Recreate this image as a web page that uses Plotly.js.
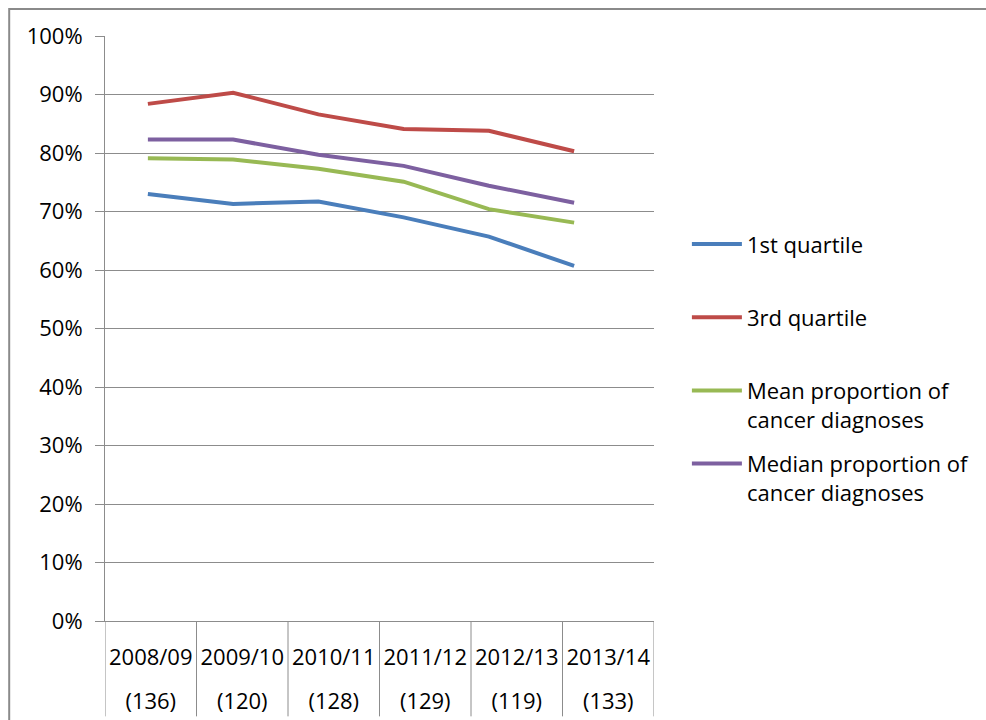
<!DOCTYPE html>
<html>
<head>
<meta charset="utf-8">
<script src="https://cdn.plot.ly/plotly-3.0.1.min.js"></script>
<style>html,body{margin:0;padding:0;background:#fff;}</style>
</head>
<body>
<div id="chart" style="width:986px;height:720px;"></div>
<script>
// ---- data ----
var years = ["2008/09", "2009/10", "2010/11", "2011/12", "2012/13", "2013/14"];
var counts = ["(136)", "(120)", "(128)", "(129)", "(119)", "(133)"];
var q1 = [0.730, 0.713, 0.717, 0.690, 0.657, 0.607];
var q3 = [0.884, 0.903, 0.866, 0.841, 0.838, 0.803];
var meanProp = [0.791, 0.789, 0.773, 0.751, 0.704, 0.681];
var medianProp = [0.823, 0.823, 0.797, 0.778, 0.744, 0.715];
var seriesNames = ["1st quartile", "3rd quartile", "Mean proportion of<br>cancer diagnoses", "Median proportion of<br>cancer diagnoses"];
var seriesColors = ["#4A7EBB", "#BE4B48", "#98B954", "#7D60A0"];

var idx = years.map(function (_, i) { return i; });
var FONT = "Open Sans, Lato, sans-serif";
var GRID = "#8c8c8c";

var allVals = [q1, q3, meanProp, medianProp];
var traces = allVals.map(function (vals, k) {
  var nm = seriesNames[k];
  if (nm.indexOf("<br>") < 0) nm = nm + "<br> ";
  return {
    type: "scatter", mode: "lines", x: idx, y: vals, xaxis: "x", yaxis: "y",
    name: nm, legendgroup: "g" + k,
    line: {color: seriesColors[k], width: 4}, hoverinfo: "skip"
  };
});
// invisible traces to anchor the category axes
traces.push({type: "scatter", mode: "markers", x: years, y: years.map(function(){return null;}), xaxis: "x2", yaxis: "y", showlegend: false, hoverinfo: "skip"});
traces.push({type: "scatter", mode: "markers", x: years, y: years.map(function(){return null;}), xaxis: "x3", yaxis: "y", showlegend: false, hoverinfo: "skip"});

// separators at category boundaries below the plot
var shapes = [];
for (var b = 0; b <= years.length; b++) {
  shapes.push({type: "line", xref: "x2", yref: "paper", x0: b - 0.5, x1: b - 0.5, y0: 0, y1: -0.163,
    line: {color: GRID, width: 1}, layer: "below"});
}
// outer chart border
shapes.push({type: "rect", xref: "paper", yref: "paper", x0: -0.1745, x1: 2, y0: -0.5, y1: 1.046,
  line: {color: "#8a8a8a", width: 2}, fillcolor: "rgba(0,0,0,0)"});

var layout = {
  width: 986, height: 720,
  margin: {l: 105, r: 331, t: 36, b: 99},
  paper_bgcolor: "#fff", plot_bgcolor: "#fff",
  font: {family: FONT, color: "#000", size: 20},
  showlegend: true,
  legend: {
    x: 1.058, xanchor: "left", y: 0.68, yanchor: "top",
    font: {family: FONT, size: 22, color: "#000"},
    valign: "top", traceorder: "grouped", tracegroupgap: 13,
    itemwidth: 50, borderwidth: 0, bgcolor: "rgba(0,0,0,0)"
  },
  xaxis: {
    type: "linear", range: [-0.503, 5.937], showgrid: false, zeroline: false,
    showticklabels: false, ticks: "", showline: false, fixedrange: true
  },
  xaxis2: {
    type: "category", overlaying: "x", side: "bottom", range: [-0.5, 5.5],
    tickvals: years, ticktext: years, showgrid: false, zeroline: false,
    ticks: "", showline: true, linecolor: GRID, linewidth: 1,
    tickfont: {family: FONT, size: 22, color: "#000"}, ticklabelstandoff: 17
  },
  xaxis3: {
    type: "category", overlaying: "x", side: "bottom", range: [-0.5, 5.5],
    tickvals: years, ticktext: counts, showgrid: false, zeroline: false,
    ticks: "", showline: false,
    tickfont: {family: FONT, size: 22, color: "#000"}, ticklabelstandoff: 65
  },
  yaxis: {
    range: [0, 1], dtick: 0.1, tick0: 0, tickformat: ".0%",
    showgrid: true, gridcolor: GRID, gridwidth: 1, zeroline: false,
    showline: true, linecolor: GRID, linewidth: 1,
    ticks: "outside", ticklen: 9, tickcolor: GRID, ticklabelstandoff: 8,
    tickfont: {family: FONT, size: 22, color: "#000"}
  },
  shapes: shapes
};

Plotly.newPlot("chart", traces, layout, {displayModeBar: false, staticPlot: true});
</script>
</body>
</html>
